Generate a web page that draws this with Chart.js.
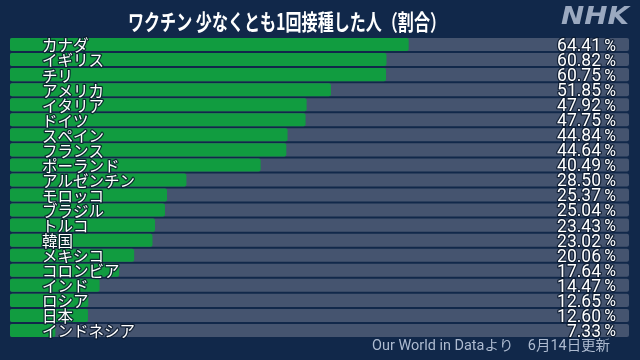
<!DOCTYPE html>
<html><head><meta charset="utf-8">
<script src="https://cdn.jsdelivr.net/npm/chart.js@4"></script>
<style>html,body{margin:0;padding:0;background:#11284a;}#c{display:block;}</style>
</head><body>
<canvas id="c" width="640" height="360"></canvas>
<script>
const countries = ["カナダ","イギリス","チリ","アメリカ","イタリア","ドイツ","スペイン","フランス","ポーランド","アルゼンチン","モロッコ","ブラジル","トルコ","韓国","メキシコ","コロンビア","インド","ロシア","日本","インドネシア"];
const values = [64.41,60.82,60.75,51.85,47.92,47.75,44.84,44.64,40.49,28.50,25.37,25.04,23.43,23.02,20.06,17.64,14.47,12.65,12.60,7.33];
const track = countries.map(() => 100);
const titleText = "ワクチン 少なくとも1回接種した人（割合）";
const footerText = "Our World in Dataより　6月14日更新";
const FONT = '"Noto Sans CJK JP", "Noto Sans", sans-serif';
const NUMFONT = 'Roboto, "Noto Sans", sans-serif';

function fitText(ctx, text, cx, y, width) {
  const w = ctx.measureText(text).width;
  ctx.save();
  ctx.translate(cx, y);
  ctx.scale(width / w, 1);
  ctx.textAlign = 'center';
  ctx.fillText(text, 0, 0);
  ctx.restore();
}

const labelsPlugin = {
  id: 'labels',
  beforeDraw(chart) {
    const ctx = chart.ctx;
    ctx.save();
    ctx.fillStyle = '#11284a';
    ctx.fillRect(0, 0, chart.width, chart.height);
    ctx.restore();
  },
  afterDraw(chart) {
    const ctx = chart.ctx;
    const meta = chart.getDatasetMeta(1);
    ctx.save();
    ctx.lineJoin = 'round';
    meta.data.forEach((bar, i) => {
      const y = bar.y + 1;
      ctx.font = '15.5px ' + FONT;
      ctx.textBaseline = 'middle';
      ctx.textAlign = 'left';
      ctx.strokeStyle = 'rgba(10,25,45,0.85)';
      ctx.lineWidth = 2.5;
      ctx.strokeText(countries[i], 42, y);
      ctx.fillStyle = '#ffffff';
      ctx.fillText(countries[i], 42, y);
      ctx.textAlign = 'right';
      ctx.font = '16px ' + NUMFONT;
      ctx.strokeText('%', 616, y + 1);
      ctx.fillText('%', 616, y + 1);
      ctx.font = '17.5px ' + NUMFONT;
      const v = values[i].toFixed(2);
      ctx.strokeText(v, 601, y + 1);
      ctx.fillText(v, 601, y + 1);
    });
    // title
    ctx.textBaseline = 'middle';
    ctx.font = 'bold 22px ' + FONT;
    ctx.fillStyle = '#ffffff';
    fitText(ctx, titleText, 287, 22, 318);
    // NHK logo
    ctx.font = 'italic bold 24px "DejaVu Sans", sans-serif';
    ctx.fillStyle = '#9ba9c0';
    fitText(ctx, 'NHK', 595, 18, 68);
    // footer
    ctx.font = '14px Roboto, "Noto Sans CJK JP", sans-serif';
    ctx.fillStyle = '#aebbd0';
    fitText(ctx, footerText, 491, 346, 238);
    ctx.restore();
  }
};

new Chart(document.getElementById('c'), {
  type: 'bar',
  data: {
    labels: countries,
    datasets: [
      { data: track, backgroundColor: '#45546f', grouped: false, order: 2, borderRadius: 2, borderSkipped: false, categoryPercentage: 1, barPercentage: 13/15 },
      { data: values, backgroundColor: '#119c40', grouped: false, order: 1, borderRadius: 2, borderSkipped: false, categoryPercentage: 1, barPercentage: 13/15 }
    ]
  },
  options: {
    indexAxis: 'y',
    responsive: false,
    animation: false,
    devicePixelRatio: 1,
    layout: { padding: { left: 10, right: 11, top: 37, bottom: 22 } },
    scales: {
      x: { display: false, min: 0, max: 100 },
      y: { display: false }
    },
    plugins: { legend: { display: false }, tooltip: { enabled: false }, title: { display: false } }
  },
  plugins: [labelsPlugin]
});
</script>
</body></html>
